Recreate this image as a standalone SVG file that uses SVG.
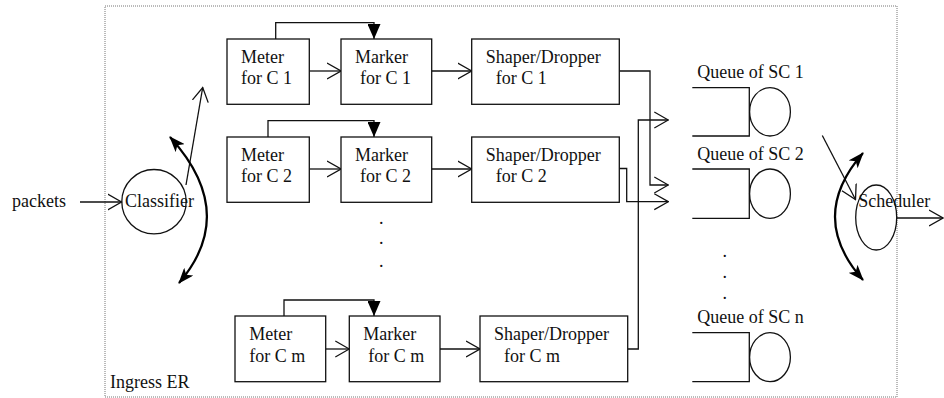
<svg xmlns="http://www.w3.org/2000/svg" width="944" height="398" viewBox="0 0 944 398">
<style>
text{font-family:"Liberation Serif","Times New Roman",serif;font-size:18px;fill:#111}
.box{fill:#fff;stroke:#111;stroke-width:1.3}
.ln{fill:none;stroke:#111;stroke-width:1.3}
.thick{fill:none;stroke:#000;stroke-width:2.2}
</style>
<defs>
<marker id="open" markerUnits="userSpaceOnUse" viewBox="0 0 15 18" refX="14" refY="9" markerWidth="15" markerHeight="18" orient="auto"><path d="M0,1 L14,9 L0,17" fill="none" stroke="#111" stroke-width="1.3"/></marker>
<marker id="fill" markerUnits="userSpaceOnUse" viewBox="0 0 15 13" refX="15" refY="6.5" markerWidth="15" markerHeight="13" orient="auto"><path d="M0,0 L15,6.5 L0,13 z" fill="#000"/></marker>
<marker id="curv" markerUnits="userSpaceOnUse" viewBox="0 0 16 12" refX="15" refY="6" markerWidth="16" markerHeight="12" orient="auto-start-reverse"><path d="M0,0 L16,6 L0,12 L4,6 z" fill="#000"/></marker>
</defs>
<rect x="105" y="6" width="792" height="391" fill="none" stroke="#777" stroke-width="1" stroke-dasharray="1,1"/>
<text x="110" y="388">Ingress ER</text>
<text x="12" y="207">packets</text>

<g id="connectors">
<line class="ln" x1="80" y1="202" x2="121.5" y2="202" marker-end="url(#open)"/>
<line class="ln" x1="186" y1="185" x2="202.7" y2="87.5" marker-end="url(#open)"/>
<path class="thick" d="M170,137 Q239,213 179,283" marker-start="url(#curv)" marker-end="url(#curv)"/>
<polyline class="ln" points="275.7,39 275.7,22.7 374,22.7 374,39" marker-end="url(#fill)"/>
<polyline class="ln" points="268,137 268,120.7 374,120.7 374,137" marker-end="url(#fill)"/>
<polyline class="ln" points="284,316 284,300 374,300 374,316" marker-end="url(#fill)"/>
<line class="ln" x1="309.3" y1="71" x2="341" y2="71" marker-end="url(#open)"/>
<line class="ln" x1="431.7" y1="71" x2="471.7" y2="71" marker-end="url(#open)"/>
<line class="ln" x1="309.3" y1="169" x2="341" y2="169" marker-end="url(#open)"/>
<line class="ln" x1="431.7" y1="169" x2="471.7" y2="169" marker-end="url(#open)"/>
<line class="ln" x1="325.7" y1="349" x2="349.3" y2="349" marker-end="url(#open)"/>
<line class="ln" x1="440" y1="349" x2="480" y2="349" marker-end="url(#open)"/>
<polyline class="ln" points="619.3,71 650,71 650,185 668.3,185" marker-end="url(#open)"/>
<polyline class="ln" points="619.3,168.5 626.7,168.5 626.7,201.7 668.3,201.7" marker-end="url(#open)"/>
<polyline class="ln" points="627.7,349 638.3,349 638.3,120 668.3,120" marker-end="url(#open)"/>
<line class="ln" x1="822.3" y1="135.5" x2="855.5" y2="199.5" marker-end="url(#open)"/>
<path class="thick" d="M863,153 Q807,217 863,280" marker-start="url(#curv)" marker-end="url(#curv)"/>
<line class="ln" x1="896.7" y1="218" x2="943" y2="218" marker-end="url(#open)"/>
</g>

<g id="classifier">
<circle cx="154" cy="201.7" r="32.2" fill="none" stroke="#111" stroke-width="1.3"/>
<text x="125" y="207">Classifier</text>
</g>

<g id="meter1"><rect class="box" x="227" y="39" width="82.3" height="65.3"/><text x="241" y="62.5">Meter</text><text x="241" y="84">for C 1</text></g>
<g id="marker1"><rect class="box" x="341" y="39" width="90.7" height="65.3"/><text x="355" y="62.5">Marker</text><text x="360" y="84">for C 1</text></g>
<g id="shaper1"><rect class="box" x="471.7" y="39" width="147.6" height="65.3"/><text x="485.7" y="62.5">Shaper/Dropper</text><text x="495.7" y="84">for C 1</text></g>

<g id="meter2"><rect class="box" x="227" y="137" width="82.3" height="65.3"/><text x="241" y="160.5">Meter</text><text x="241" y="182">for C 2</text></g>
<g id="marker2"><rect class="box" x="341" y="137" width="90.7" height="65.3"/><text x="355" y="160.5">Marker</text><text x="360" y="182">for C 2</text></g>
<g id="shaper2"><rect class="box" x="471.7" y="137" width="147.6" height="65.3"/><text x="485.7" y="160.5">Shaper/Dropper</text><text x="495.7" y="182">for C 2</text></g>

<g id="dots1"><text x="379" y="224">.</text><text x="379" y="244">.</text><text x="379" y="266.5">.</text></g>

<g id="meterm"><rect class="box" x="235" y="316" width="90.7" height="65.7"/><text x="249.3" y="340">Meter</text><text x="249.3" y="362">for C m</text></g>
<g id="markerm"><rect class="box" x="349.3" y="316" width="90.7" height="65.7"/><text x="363.3" y="340">Marker</text><text x="368.3" y="362">for C m</text></g>
<g id="shaperm"><rect class="box" x="480" y="316" width="147.7" height="65.7"/><text x="494" y="340">Shaper/Dropper</text><text x="504" y="362">for C m</text></g>

<g id="queue1"><text x="697.3" y="77.5">Queue of SC 1</text><polyline class="ln" points="692.3,87.7 749.3,87.7 749.3,136 692.3,136"/><ellipse cx="770" cy="111.8" rx="20.4" ry="24.2" fill="none" stroke="#111" stroke-width="1.3"/></g>
<g id="queue2"><text x="697.3" y="159.5">Queue of SC 2</text><polyline class="ln" points="692.3,169 749.3,169 749.3,218.3 692.3,218.3"/><ellipse cx="770" cy="193.7" rx="20.4" ry="24.7" fill="none" stroke="#111" stroke-width="1.3"/></g>
<g id="dots2"><text x="722.5" y="257">.</text><text x="722.5" y="277.5">.</text><text x="722.5" y="298.5">.</text></g>
<g id="queuen"><text x="697.3" y="322.7">Queue of SC n</text><polyline class="ln" points="692.3,332.7 749.3,332.7 749.3,381.7 692.3,381.7"/><ellipse cx="770" cy="357.2" rx="20.4" ry="24.5" fill="none" stroke="#111" stroke-width="1.3"/></g>

<g id="scheduler">
<ellipse cx="876.2" cy="217.5" rx="20.5" ry="32.5" fill="none" stroke="#111" stroke-width="1.3"/>
<text x="858.3" y="207.3">Scheduler</text>
</g>
</svg>
